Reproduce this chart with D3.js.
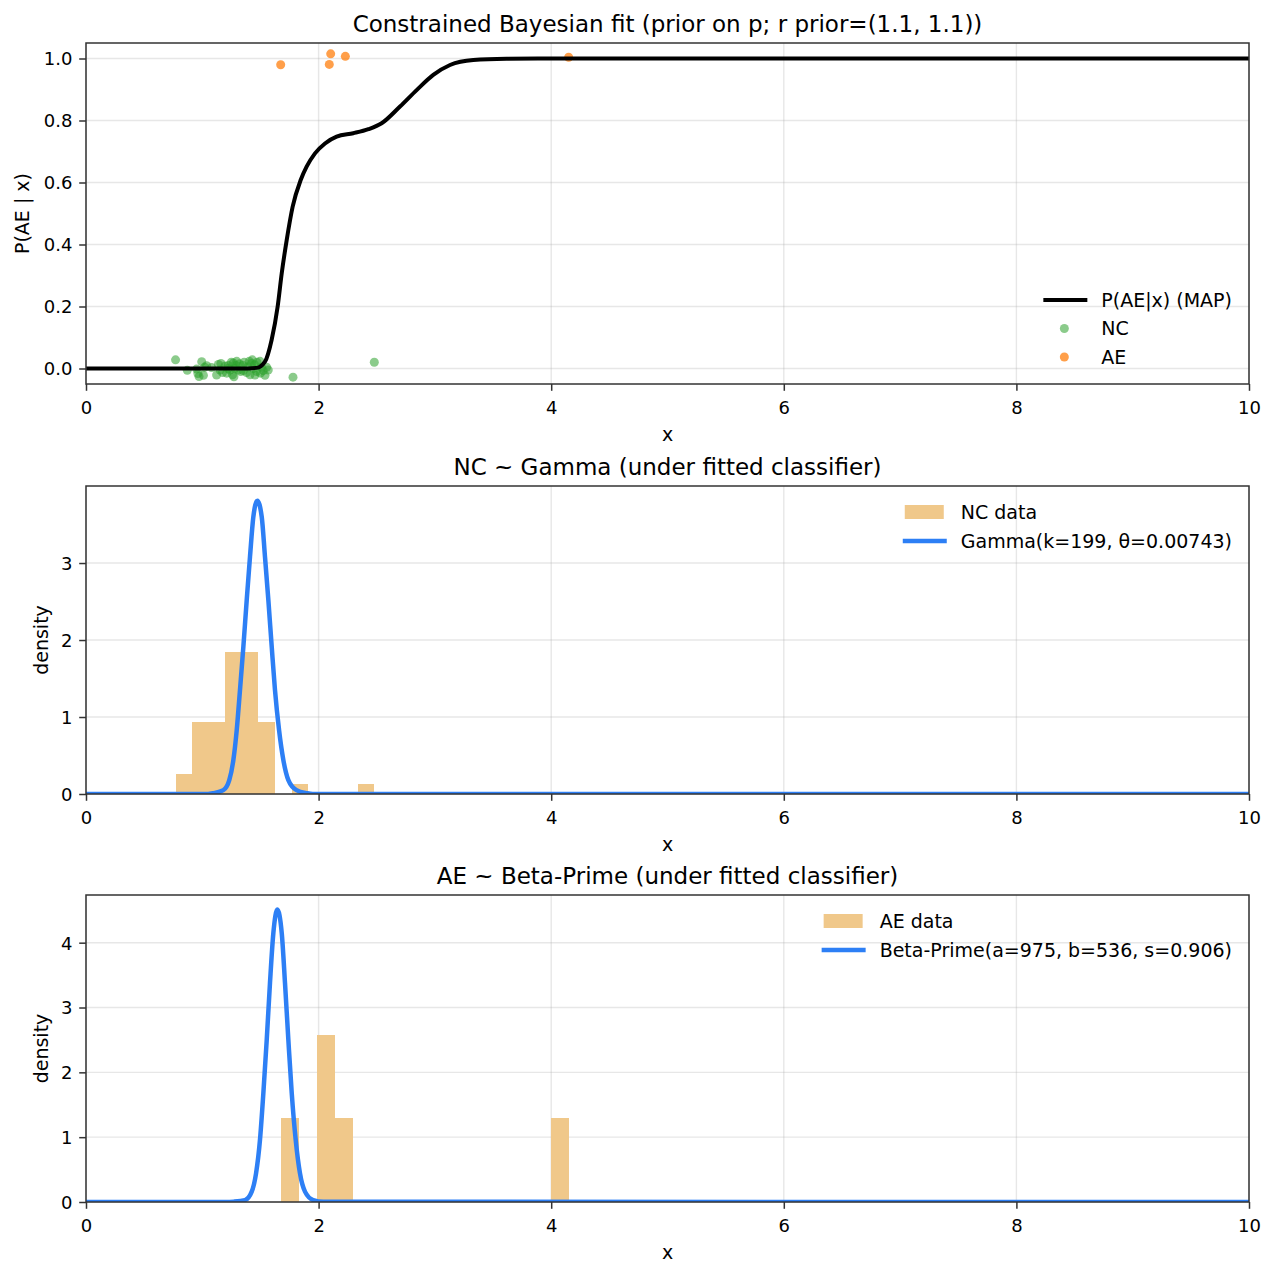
<!DOCTYPE html>
<html>
<head>
<meta charset="utf-8">
<script src="https://cdn.jsdelivr.net/npm/d3@7.9.0/dist/d3.min.js"></script>
<style>
  body { margin: 0; background: #fff; }
  text { font-family: "DejaVu Sans", sans-serif; fill: #000; }
</style>
</head>
<body>
<svg id="chart"></svg>
<script>
// ---- data ----
// NC observations: [x, jittered y]
const ncPoints = [
  [0.770, 0.028], [0.871, -0.006],
  [0.951, -0.002], [0.995, 0.022], [0.972, -0.026], [1.010, -0.022], [1.037, 0.009], [0.962, -0.016], [1.020, 0.004],
  [1.138, 0.013], [1.152, -0.005], [1.123, -0.021], [1.174, -0.013], [1.195, 0.008], [1.080, 0.003], [1.160, 0.016],
  [1.224, 0.010], [1.238, -0.005], [1.267, 0.018], [1.281, 0.000], [1.296, 0.023], [1.272, -0.027], [1.310, -0.005],
  [1.210, -0.015], [1.250, 0.020], [1.260, -0.020], [1.290, 0.010], [1.320, 0.015], [1.330, -0.010], [1.220, 0.000],
  [1.353, -0.007], [1.381, -0.013], [1.404, 0.023], [1.424, 0.016], [1.439, 0.000], [1.453, -0.021], [1.467, -0.010],
  [1.360, 0.020], [1.390, 0.005], [1.410, -0.020], [1.430, 0.028], [1.450, 0.012], [1.470, 0.020], [1.350, 0.010],
  [1.496, 0.023], [1.510, 0.004], [1.524, -0.007], [1.539, -0.022], [1.553, 0.004], [1.567, -0.005], [1.500, -0.015],
  [1.780, -0.028], [2.479, 0.020]
];
// AE observations: [x, jittered y]
const aePoints = [[1.674, 0.980], [2.092, 0.981], [2.104, 1.015], [2.230, 1.007], [4.150, 1.004]];

// P(AE|x) MAP curve
const mapX = [0, 1.32, 1.468, 1.539, 1.596, 1.648, 1.683, 1.726, 1.777, 1.846, 1.897, 1.969, 2.055, 2.155,
  2.298, 2.428, 2.542, 2.700, 2.843, 2.986, 3.130, 3.330, 3.617, 4.0, 10];
const mapY = [0, 0, 0.002, 0.022, 0.092, 0.200, 0.307, 0.415, 0.522, 0.608, 0.651, 0.694, 0.726, 0.748,
  0.759, 0.772, 0.791, 0.845, 0.898, 0.947, 0.979, 0.995, 0.999, 1.0, 1.0];

// NC histogram (density)
const ncEdges = [0.770, 0.9125, 1.055, 1.1975, 1.340, 1.4825, 1.625, 1.7675, 1.910, 2.0525, 2.195, 2.3375, 2.480];
const ncDensity = [0.26, 0.93, 0.93, 1.85, 1.85, 0.93, 0, 0.13, 0, 0, 0, 0.13];

// Gamma(k=199, θ=0.00743) curve
const gammaX = [0, 1.05, 1.09, 1.181, 1.232, 1.267, 1.296, 1.324, 1.353, 1.382, 1.410, 1.439, 1.473,
  1.511, 1.539, 1.568, 1.597, 1.625, 1.660, 1.697, 1.740, 1.810, 1.900, 1.950, 10];
const gammaY = [0, 0, 0.01, 0.05, 0.18, 0.44, 0.83, 1.35, 1.91, 2.52, 3.08, 3.60, 3.81,
  3.60, 3.08, 2.52, 1.91, 1.35, 0.83, 0.44, 0.18, 0.05, 0.01, 0, 0];

// AE histogram (density)
const aeEdges = [1.677, 1.832, 1.986, 2.141, 2.296, 2.450, 2.605, 2.760, 2.915, 3.069, 3.224, 3.379,
  3.534, 3.688, 3.843, 3.998, 4.153];
const aeDensity = [1.29, 0, 2.58, 1.29, 0, 0, 0, 0, 0, 0, 0, 0, 0, 0, 0, 1.29];

// Beta-Prime(a=975, b=536, s=0.906) curve
const betaX = [0, 1.20, 1.27, 1.367, 1.425, 1.462, 1.496, 1.525, 1.554, 1.582, 1.611, 1.645,
  1.683, 1.711, 1.740, 1.769, 1.803, 1.840, 1.883, 1.954, 2.040, 10];
const betaY = [0, 0, 0.005, 0.03, 0.16, 0.44, 0.96, 1.68, 2.50, 3.38, 4.15, 4.51,
  4.15, 3.38, 2.50, 1.68, 0.96, 0.44, 0.16, 0.03, 0.005, 0];

const xTicks = [0, 2, 4, 6, 8, 10];
const probTicks = [0, 0.2, 0.4, 0.6, 0.8, 1.0];
const ncTicks = [0, 1, 2, 3];
const aeTicks = [0, 1, 2, 3, 4];

// ---- layout ----
const W = 1276, H = 1276;
const left = 86, right = 1249;
const fontSize = 19;
const tickSize = 18;
const titleSize = 23;
const green = "#2ca02c", orange = "#ff7f0e", blue = "#2d7ff5", barFill = "#f0c88a";

const svg = d3.select("#chart").attr("width", W).attr("height", H);
svg.append("rect").attr("width", W).attr("height", H).attr("fill", "#fff");

const x = d3.scaleLinear().domain([0, 10]).range([left, right]);

function drawPanel(opts) {
  const y = d3.scaleLinear().domain(opts.yDomain).range([opts.bottom, opts.top]);
  const g = svg.append("g");

  // grid
  g.selectAll(".vgrid").data(xTicks).enter().append("line")
    .attr("x1", (d) => x(d)).attr("x2", (d) => x(d))
    .attr("y1", opts.top).attr("y2", opts.bottom)
    .attr("stroke", "#b0b0b0").attr("stroke-opacity", 0.3).attr("stroke-width", 1.4);
  g.selectAll(".hgrid").data(opts.yTicks).enter().append("line")
    .attr("x1", left).attr("x2", right)
    .attr("y1", (d) => y(d)).attr("y2", (d) => y(d))
    .attr("stroke", "#b0b0b0").attr("stroke-opacity", 0.3).attr("stroke-width", 1.4);

  const clipId = "clip" + opts.id;
  svg.append("clipPath").attr("id", clipId).append("rect")
    .attr("x", left).attr("y", opts.top)
    .attr("width", right - left).attr("height", opts.bottom - opts.top);
  const plot = svg.append("g").attr("clip-path", `url(#${clipId})`);

  return { g, y, plot, opts };
}

function finishPanel(panel) {
  const { y, opts } = panel;
  const g = svg.append("g");

  // axes
  const xAxis = g.append("g")
    .attr("transform", `translate(0,${opts.bottom})`)
    .call(d3.axisBottom(x).tickValues(xTicks).tickFormat(d3.format("d")).tickSize(6.8).tickPadding(6));
  const yAxis = g.append("g")
    .attr("transform", `translate(${left},0)`)
    .call(d3.axisLeft(y).tickValues(opts.yTicks).tickFormat(opts.tickFormat).tickSize(6.8).tickPadding(6.8));
  [xAxis, yAxis].forEach((a) => {
    a.select(".domain").remove();
    a.selectAll("line").attr("stroke", "#333").attr("stroke-width", 1.5);
    a.selectAll("text").style("font-size", tickSize + "px").attr("fill", "#000");
  });
  xAxis.selectAll("text").attr("dy", null).attr("y", 29.5).attr("dominant-baseline", "auto");
  yAxis.selectAll("text").attr("dy", "0.36em");

  // frame
  g.append("rect")
    .attr("x", left).attr("y", opts.top)
    .attr("width", right - left).attr("height", opts.bottom - opts.top)
    .attr("fill", "none").attr("stroke", "#333").attr("stroke-width", 1.5);

  // labels
  svg.append("text").attr("x", (left + right) / 2).attr("y", opts.top - 11)
    .attr("text-anchor", "middle").style("font-size", titleSize + "px").text(opts.title);
  svg.append("text").attr("x", (left + right) / 2).attr("y", opts.bottom + 57)
    .attr("text-anchor", "middle").style("font-size", fontSize + "px").text("x");
  svg.append("text")
    .attr("transform", `translate(${opts.ylabelX},${(opts.top + opts.bottom) / 2}) rotate(-90)`)
    .attr("text-anchor", "middle").style("font-size", fontSize + "px").text(opts.ylabel);
}

function drawLegend(items, topY, rowGap) {
  const lg = svg.append("g");
  const texts = items.map((it, i) =>
    lg.append("text").attr("y", topY + i * rowGap).attr("dy", "0.36em")
      .style("font-size", fontSize + "px").text(it.label));
  const maxW = d3.max(texts, (t) => t.node().getComputedTextLength());
  const tx = 1232 - maxW;
  texts.forEach((t) => t.attr("x", tx));
  items.forEach((it, i) => {
    const cy = topY + i * rowGap;
    if (it.type === "line") {
      lg.append("line").attr("x1", tx - 58).attr("x2", tx - 14).attr("y1", cy).attr("y2", cy)
        .attr("stroke", it.color).attr("stroke-width", it.width);
    } else if (it.type === "patch") {
      lg.append("rect").attr("x", tx - 56).attr("y", cy - 7).attr("width", 39).attr("height", 14)
        .attr("fill", it.color);
    } else {
      lg.append("circle").attr("cx", tx - 37).attr("cy", cy).attr("r", 4.5)
        .attr("fill", it.color).attr("fill-opacity", it.opacity);
    }
  });
}

const curve = d3.line().curve(d3.curveMonotoneX);

// ---- panel 1: P(AE|x) ----
const p1 = drawPanel({
  id: 1, top: 43, bottom: 384, yDomain: [-0.05, 1.05], yTicks: probTicks,
  tickFormat: d3.format(".1f"),
  title: "Constrained Bayesian fit (prior on p; r prior=(1.1, 1.1))",
  ylabel: "P(AE | x)", ylabelX: 29
});
p1.plot.selectAll(".nc").data(ncPoints).enter().append("circle")
  .attr("cx", (d) => x(d[0])).attr("cy", (d) => p1.y(d[1])).attr("r", 4.5)
  .attr("fill", green).attr("fill-opacity", 0.55);
p1.plot.selectAll(".ae").data(aePoints).enter().append("circle")
  .attr("cx", (d) => x(d[0])).attr("cy", (d) => p1.y(d[1])).attr("r", 4.5)
  .attr("fill", orange).attr("fill-opacity", 0.75);
p1.plot.append("path")
  .attr("d", curve.x((d) => x(d[0])).y((d) => p1.y(d[1]))(mapX.map((v, i) => [v, mapY[i]])))
  .attr("fill", "none").attr("stroke", "#000").attr("stroke-width", 4);
finishPanel(p1);
drawLegend([
  { type: "line", label: "P(AE|x) (MAP)", color: "#000", width: 4 },
  { type: "dot", label: "NC", color: green, opacity: 0.55 },
  { type: "dot", label: "AE", color: orange, opacity: 0.75 }
], 300, 28.5);

// ---- histogram panels ----
function histPanel(opts, edges, density, cx, cy, legendItems, legendTop) {
  const yMax = d3.max(cy) * 1.05;
  const p = drawPanel(Object.assign(opts, { yDomain: [0, yMax] }));
  const bins = density.map((d, i) => ({ x0: edges[i], x1: edges[i + 1], v: d }));
  p.plot.selectAll(".bar").data(bins.filter((b) => b.v > 0)).enter().append("rect")
    .attr("x", (d) => x(d.x0)).attr("width", (d) => x(d.x1) - x(d.x0))
    .attr("y", (d) => p.y(d.v)).attr("height", (d) => p.y(0) - p.y(d.v))
    .attr("fill", barFill).attr("shape-rendering", "crispEdges");
  p.plot.append("path")
    .attr("d", d3.line().curve(d3.curveMonotoneX).x((d) => x(d[0])).y((d) => p.y(d[1]))(cx.map((v, i) => [v, cy[i]])))
    .attr("fill", "none").attr("stroke", blue).attr("stroke-width", 4.5);
  finishPanel(p);
  drawLegend(legendItems, legendTop, 29);
}

histPanel({
  id: 2, top: 486, bottom: 794, yTicks: ncTicks, tickFormat: d3.format("d"),
  title: "NC ~ Gamma (under fitted classifier)", ylabel: "density", ylabelX: 48
}, ncEdges, ncDensity, gammaX, gammaY, [
  { type: "patch", label: "NC data", color: barFill },
  { type: "line", label: "Gamma(k=199, θ=0.00743)", color: blue, width: 4.5 }
], 512);

histPanel({
  id: 3, top: 895, bottom: 1202, yTicks: aeTicks, tickFormat: d3.format("d"),
  title: "AE ~ Beta-Prime (under fitted classifier)", ylabel: "density", ylabelX: 48
}, aeEdges, aeDensity, betaX, betaY, [
  { type: "patch", label: "AE data", color: barFill },
  { type: "line", label: "Beta-Prime(a=975, b=536, s=0.906)", color: blue, width: 4.5 }
], 921);
</script>
</body>
</html>
